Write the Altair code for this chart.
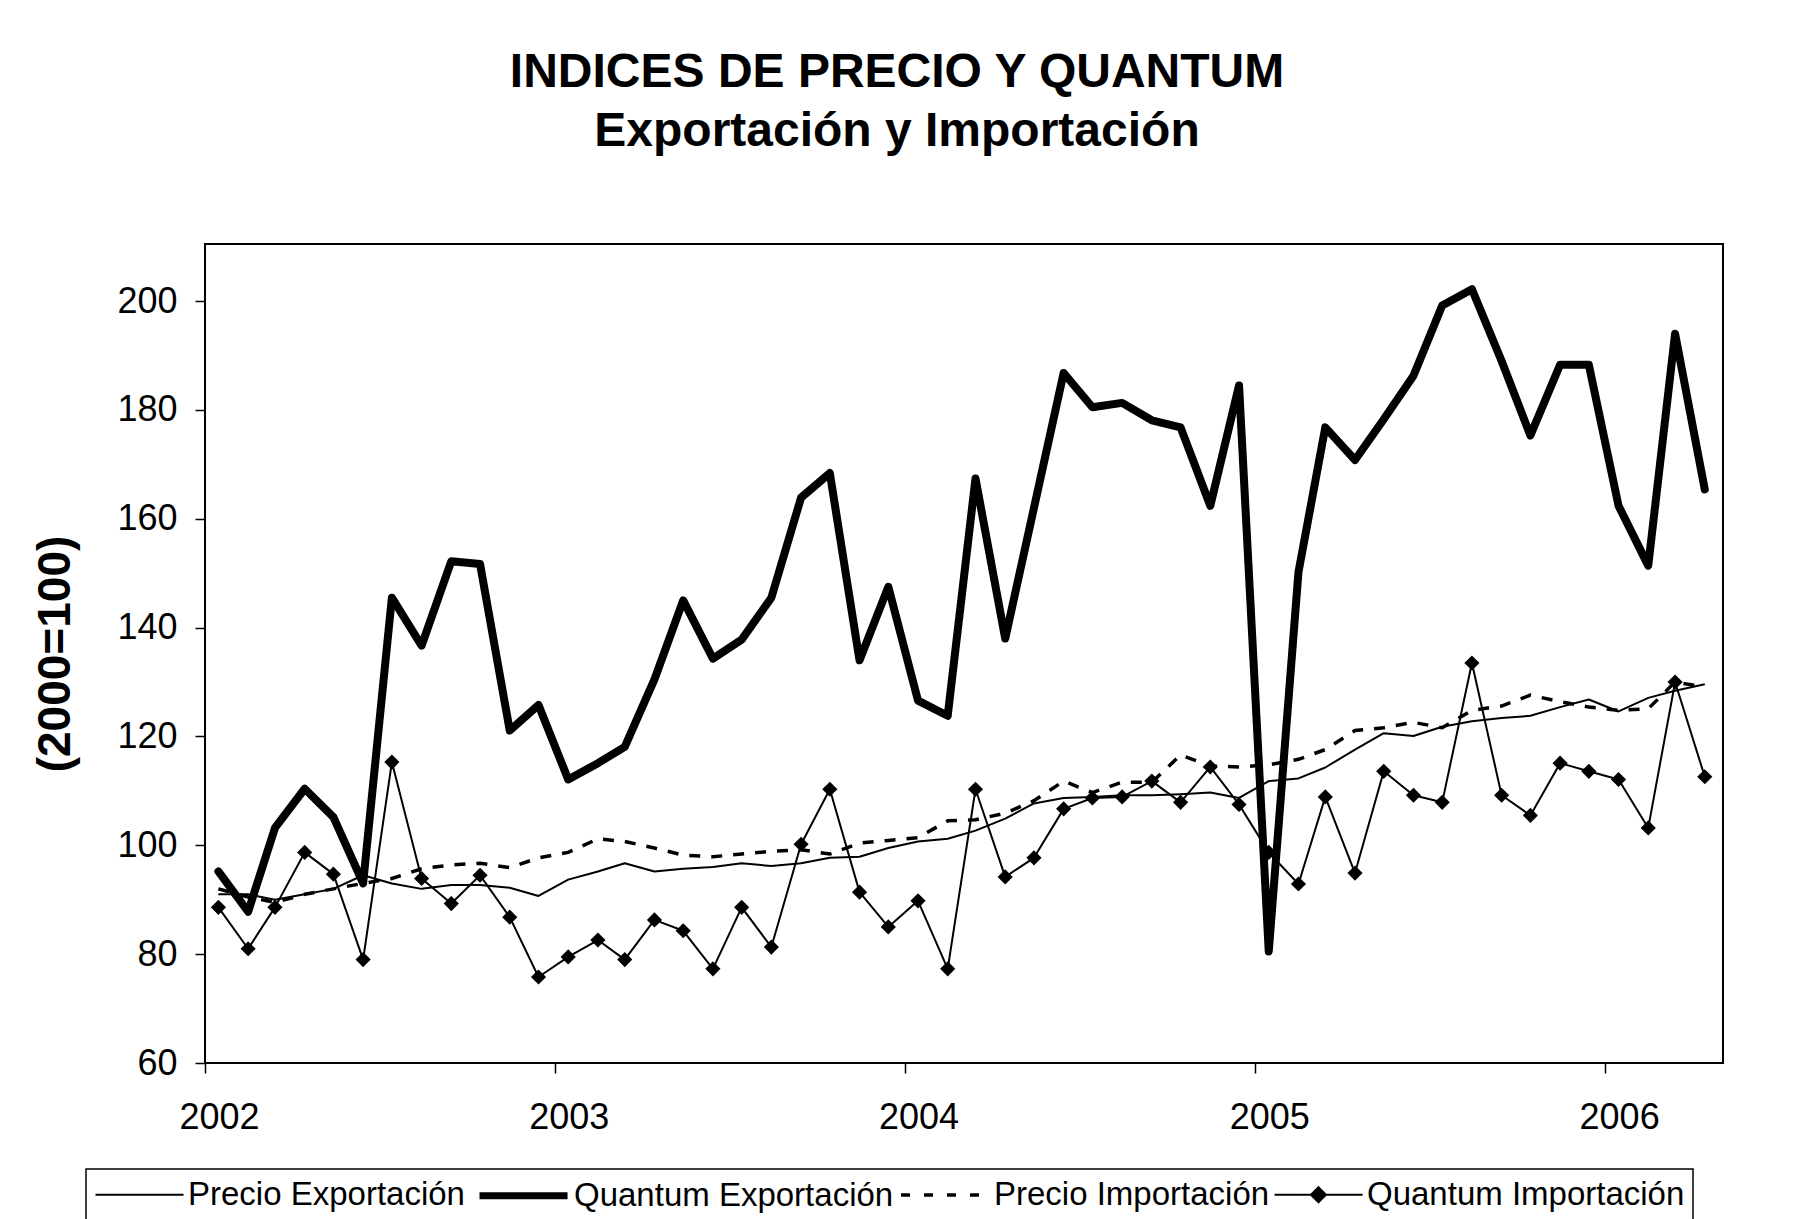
import altair as alt
import pandas as pd

# Monthly observations, Jan 2002 - Apr 2006 (plotted mid-month)
fechas = [f"{2002 + k // 12}-{k % 12 + 1:02d}-15T00:00:00" for k in range(52)]

series_names = ["Precio Exportación", "Quantum Exportación", "Precio Importación", "Quantum Importación"]

precio_exportacion = [
    91.0, 91.0, 90.0, 91.0, 92.0, 94.5, 93.0, 92.0, 92.7, 92.7, 92.2, 90.7,
    93.7, 95.2, 96.7, 95.2, 95.7, 96.0, 96.7, 96.2, 96.7, 97.7, 97.9, 99.5,
    100.7, 101.2, 102.7, 104.9, 107.7, 108.7, 108.9, 109.2, 109.2, 109.4, 109.7, 108.7,
    111.8, 112.3, 114.3, 117.6, 120.6, 120.1, 121.8, 122.8, 123.4, 123.8, 125.4, 126.8,
    124.6, 127.1, 128.4, 129.6,
]

quantum_exportacion = [
    95.2, 87.8, 103.2, 110.4, 105.2, 93.0, 145.5, 136.7, 152.2, 151.7, 121.1, 125.8,
    112.1, 115.1, 118.1, 130.5, 145.0, 134.3, 137.8, 145.5, 163.9, 168.4, 134.0, 147.5,
    126.6, 123.8, 167.4, 138.0, 162.0, 186.8, 180.5, 181.3, 178.1, 176.8, 162.4, 184.5,
    80.5, 150.2, 176.8, 170.8, 178.3, 186.3, 199.2, 202.2, 189.0, 175.3, 188.3, 188.3,
    162.4, 151.4, 194.0, 165.4,
]

precio_importacion = [
    92.0, 90.5, 89.5, 91.0, 92.0, 93.0, 93.9, 95.7, 96.4, 96.7, 95.9, 97.7,
    98.7, 101.2, 100.7, 99.5, 98.2, 97.9, 98.4, 98.9, 99.2, 98.4, 100.4, 100.9,
    101.4, 104.5, 104.7, 105.9, 108.2, 111.8, 109.7, 111.6, 111.6, 116.6, 114.6, 114.4,
    114.8, 115.8, 117.6, 121.1, 121.6, 122.6, 121.6, 124.8, 125.6, 127.6, 126.4, 125.4,
    124.8, 125.1, 130.0, 129.1,
]

quantum_importacion = [
    88.6, 81.0, 88.6, 98.7, 94.7, 79.0, 115.3, 93.9, 89.3, 94.5, 86.8, 75.8,
    79.5, 82.6, 79.0, 86.3, 84.3, 77.3, 88.6, 81.3, 100.2, 110.3, 91.4, 85.0,
    89.8, 77.3, 110.3, 94.2, 97.7, 106.7, 108.7, 108.9, 111.8, 107.9, 114.4, 107.5,
    98.7, 92.9, 108.9, 94.9, 113.6, 109.2, 107.9, 133.5, 109.2, 105.5, 115.1, 113.6,
    112.1, 103.2, 130.0, 112.6,
]

y_ticks = [60, 80, 100, 120, 140, 160, 180, 200]
year_ticks = [2002, 2003, 2004, 2005, 2006]

all_values = [precio_exportacion, quantum_exportacion, precio_importacion, quantum_importacion]
rows = []
for name, vals in zip(series_names, all_values):
    for f, v in zip(fechas, vals):
        rows.append({"fecha": f, "valor": v, "serie": name})
df = pd.DataFrame(rows)

FONT = "Liberation Sans"

x_enc = alt.X(
    "fecha:T",
    title=None,
    scale=alt.Scale(domain=[alt.DateTime(year=2002, month=1, date=1),
                            alt.DateTime(year=2006, month=5, date=4)]),
    axis=alt.Axis(values=[alt.DateTime(year=yv, month=1, date=1) for yv in year_ticks],
                  format="%Y", labelOffset=14, labelPadding=27, labelAlign="center",
                  labelBaseline="top"),
)
y_enc = alt.Y(
    "valor:Q",
    scale=alt.Scale(domain=[60, 210.5], nice=False, zero=False),
    axis=alt.Axis(values=y_ticks, title="(2000=100)", labelPadding=18,
                  titleFont=FONT, titleFontSize=46, titleFontWeight="bold",
                  titleAngle=270, titleX=-150, titleY=409.5,
                  titleAlign="center", titleBaseline="middle", titleColor="black"),
)

base = alt.Chart(df)

def only(name):
    return base.transform_filter(alt.datum.serie == name)

l_pexp = only("Precio Exportación").mark_line(color="black", strokeWidth=2,
                                               strokeJoin="round").encode(x=x_enc, y=y_enc)
l_qexp = only("Quantum Exportación").mark_line(color="black", strokeWidth=8,
                                                strokeJoin="round", strokeCap="round").encode(x=x_enc, y=y_enc)
l_pimp = only("Precio Importación").mark_line(color="black", strokeWidth=3.5,
                                               strokeDash=[11, 11]).encode(x=x_enc, y=y_enc)
l_qimp = only("Quantum Importación").mark_line(color="black", strokeWidth=2,
                                                strokeJoin="round").encode(x=x_enc, y=y_enc)
p_qimp = only("Quantum Importación").mark_point(shape="diamond", filled=True, size=230,
                                                 color="black", opacity=1).encode(x=x_enc, y=y_enc)

# legend symbols: an 88px line drawn rightwards from a 30px symbol box
# (keeps the legend row as high as the text); diamond built of nested outlines
line_path = "M-1,0L4.87,0"
diamond = "".join(
    f"M{1.93 - h:.3f},0L1.93,{-h:.3f}L{1.93 + h:.3f},0L1.93,{h:.3f}Z"
    for h in (0.5, 0.36, 0.22, 0.08)
)
legend_paths = [line_path, line_path, line_path, line_path + diamond]
leg = alt.Legend(
    title=None, orient="none", legendX=-119, legendY=925, direction="horizontal",
    labelFont=FONT, labelFontSize=33, labelColor="black", labelLimit=0,
    symbolSize=900, labelOffset=61, columnPadding=0, padding=8,
    strokeColor="black", symbolStrokeColor="black", symbolFillColor="black",
    symbolOpacity=1, fillColor="white",
)
legend_layer = base.transform_filter("false").mark_point(color="black", opacity=1).encode(
    shape=alt.Shape("serie:N", scale=alt.Scale(domain=series_names, range=legend_paths), legend=leg),
    strokeDash=alt.StrokeDash("serie:N", scale=alt.Scale(domain=series_names,
                              range=[[1, 0], [1, 0], [9, 14], [1, 0]]), legend=leg),
    strokeWidth=alt.StrokeWidth("serie:N", scale=alt.Scale(type="ordinal", domain=series_names,
                                range=[2, 7, 3.5, 2]), legend=leg),
)

chart = alt.layer(l_pexp, l_pimp, l_qimp, p_qimp, l_qexp, legend_layer).properties(
    width=1518,
    height=819,
    autosize=alt.AutoSizeParams(type="none"),
    padding={"left": 197, "top": 236, "right": 40, "bottom": 158},
    title=alt.Title(
        ["INDICES DE PRECIO Y QUANTUM", "Exportación y Importación"],
        font=FONT, fontSize=48, fontWeight="bold", lineHeight=59,
        anchor="middle", dx=-67, dy=-84, color="black",
    ),
).configure_view(
    stroke="black", strokeWidth=2
).configure_axis(
    domain=False, grid=False, ticks=True, tickColor="black", tickWidth=1.5, tickSize=10,
    labelFont=FONT, labelFontSize=36, labelColor="black",
).configure_legend(
    strokeWidth=1.5
)

chart.save("out.html", embed_options={"renderer": "svg", "actions": False})
